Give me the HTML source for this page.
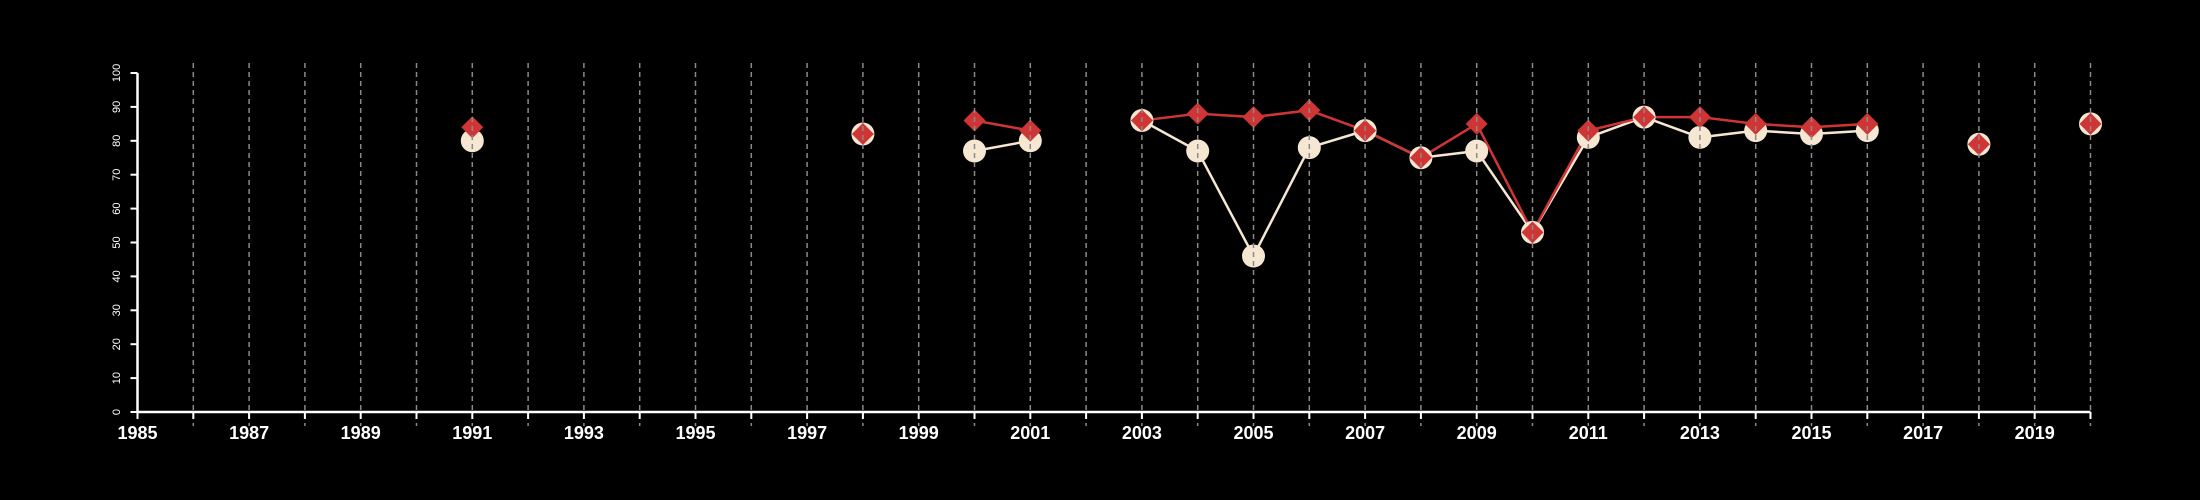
<!DOCTYPE html>
<html><head><meta charset="utf-8"><style>
html,body{margin:0;padding:0;background:#000;}
svg{display:block;font-family:"Liberation Sans",sans-serif;}
</style></head><body>
<svg id="chart" width="2200" height="500" viewBox="0 0 2200 500"></svg>
<script>
const years = [1985,1986,1987,1988,1989,1990,1991,1992,1993,1994,1995,1996,1997,1998,1999,2000,2001,2002,2003,2004,2005,2006,2007,2008,2009,2010,2011,2012,2013,2014,2015,2016,2017,2018,2019,2020];
const circleSeries = [null,null,null,null,null,null,80,null,null,null,null,null,null,82,null,77,80,null,86,77,46,78,83,75,77,53,81,87,81,83,82,83,null,79,null,85];
const diamondSeries = [null,null,null,null,null,null,84,null,null,null,null,null,null,82,null,86,83,null,86,88,87,89,83,75,85,53,83,87,87,85,84,85,null,79,null,85];
const yTicks = [0,10,20,30,40,50,60,70,80,90,100];

const NS = "http://www.w3.org/2000/svg";
const svg = document.getElementById('chart');
const X0 = 137.5, XS = 55.8, Y0 = 412, Y100 = 73;
const xScale = yr => X0 + (yr - 1985) * XS;
const yScale = v => Y0 + (Y100 - Y0) * v / 100;
function mk(tag, attrs, parent) {
  const e = document.createElementNS(NS, tag);
  for (const k in attrs) e.setAttribute(k, attrs[k]);
  (parent || svg).appendChild(e);
  return e;
}
const gLines = mk('g', {});


const gMarks = mk('g', {});


const gGrid = mk('g', {});


const gAxes = mk('g', {});



function drawLine(series, color, w, name) {
  for (let i = 1; i < years.length; i++) {
    if (series[i] != null && series[i-1] != null) {
      const l = mk('line', {x1: xScale(years[i-1]), y1: yScale(series[i-1]), x2: xScale(years[i]), y2: yScale(series[i]), stroke: color, 'stroke-width': w}, gLines);
      
      
    }
  }
}
drawLine(circleSeries, '#f6e7d2', 2.5, 'circle-series-segment');
drawLine(diamondSeries, '#d03535', 2.5, 'diamond-series-segment');

years.forEach((yr, i) => {
  if (circleSeries[i] != null) {
    const c = mk('circle', {cx: xScale(yr), cy: yScale(circleSeries[i]), r: 11.5, fill: '#f6e7d2'}, gMarks);
    
    
  }
});
years.forEach((yr, i) => {
  if (diamondSeries[i] != null) {
    const x = xScale(yr), y = yScale(diamondSeries[i]), s = 11;
    const p = mk('polygon', {points: `${x},${y-s} ${x+s},${y} ${x},${y+s} ${x-s},${y}`, fill: '#d03535'}, gMarks);
    
    
  }
});

years.forEach(yr => {
  if (yr === 1985) return;
  const g = mk('line', {x1: xScale(yr), y1: 63, x2: xScale(yr), y2: 426, stroke: '#8a8a8a', 'stroke-width': 1.5, 'stroke-dasharray': '5,4'}, gGrid);
  
  
});

const xa = mk('line', {x1: X0, y1: Y0, x2: xScale(2020), y2: Y0, stroke: '#fff', 'stroke-width': 2.5}, gAxes);


const ya = mk('line', {x1: X0, y1: Y0, x2: X0, y2: Y100, stroke: '#fff', 'stroke-width': 2.5}, gAxes);



years.forEach((yr, i) => {
  const t = mk('line', {x1: xScale(yr), y1: Y0, x2: xScale(yr), y2: Y0 + 7, stroke: '#fff', 'stroke-width': 2}, gAxes);
  
  
  if (i % 2 === 0 && yr < 2020) {
    const tx = mk('text', {x: xScale(yr), y: 439, fill: '#fff', 'font-size': 18, 'font-weight': 'bold', 'text-anchor': 'middle'}, gAxes);
    tx.textContent = yr;
    
    
  }
});
yTicks.forEach(v => {
  const y = yScale(v);
  const t = mk('line', {x1: X0 - 7, y1: y, x2: X0, y2: y, stroke: '#fff', 'stroke-width': 2}, gAxes);
  
  
  const tx = mk('text', {x: 0, y: 0, fill: '#fff', 'font-size': 11, 'text-anchor': 'middle', transform: `translate(120,${y}) rotate(-90)`}, gAxes);
  tx.textContent = v;
  
  
});
</script>
</body></html>
